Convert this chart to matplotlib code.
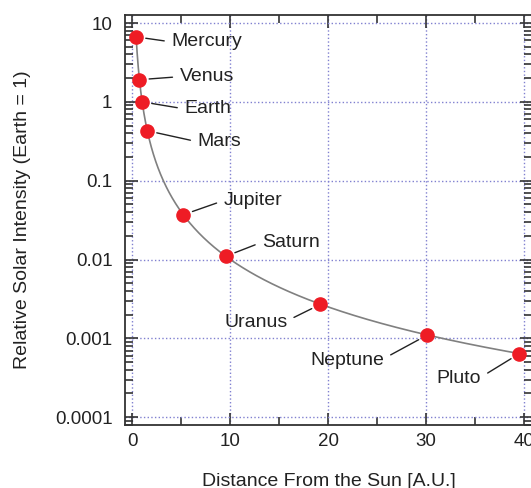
import numpy as np
import matplotlib.pyplot as plt
from matplotlib.ticker import FixedLocator, LogLocator, FuncFormatter, NullFormatter

plt.rcParams['font.family'] = ['Liberation Sans', 'DejaVu Sans']

planets = ['Mercury', 'Venus', 'Earth', 'Mars', 'Jupiter', 'Saturn', 'Uranus', 'Neptune', 'Pluto']
distance = [0.387, 0.723, 1.0, 1.524, 5.20, 9.54, 19.2, 30.1, 39.5]
intensity = [6.67, 1.91, 1.0, 0.43, 0.037, 0.011, 0.0027, 0.0011, 0.00064]

# label offsets in pixels from each dot, plus which side of the text the leader attaches to
label_offset = [(35, -5), (40, 3), (42, -7), (50, -11), (40, 14), (36, 14), (-33, -18), (-43, -25), (-38, -25)]
label_align = ['left'] * 6 + ['right'] * 3

fig = plt.figure(figsize=(5.31, 4.88), dpi=100)
ax = fig.add_axes([0.2354, 0.129, 0.7666, 0.840])

# inverse-square law curve
r = np.geomspace(distance[0], distance[-1], 400)
ax.plot(r, 1 / r**2, color='#808080', lw=1.2, zorder=2)

ax.plot(distance, intensity, 'o', color='#ee1c25', ms=9.5, mec='#ee1c25', zorder=3)

for name, d, s, off, ha in zip(planets, distance, intensity, label_offset, label_align):
    ax.annotate(name, (d, s), xytext=off, textcoords='offset pixels',
                ha=ha, va='center', fontsize=14, color='#222222',
                arrowprops=dict(arrowstyle='-', color='#222222', lw=1,
                                shrinkA=3, shrinkB=7,
                                relpos=(0, 0.5) if ha == 'left' else (1, 0.6)))

ax.set_yscale('log')
ax.set_xlim(-0.75, 40.8)
ax.set_ylim(10**-4.1, 10**1.1)

ax.xaxis.set_major_locator(FixedLocator([0, 10, 20, 30, 40]))
ax.xaxis.set_minor_locator(FixedLocator([5, 15, 25, 35]))
ax.yaxis.set_major_locator(LogLocator(base=10, numticks=20))
ax.yaxis.set_minor_locator(LogLocator(base=10, subs=np.arange(2, 10), numticks=20))
ax.yaxis.set_major_formatter(FuncFormatter(lambda v, p: '%g' % v))
ax.yaxis.set_minor_formatter(NullFormatter())

ax.tick_params(which='both', direction='in', top=True, right=True, width=1.2, color='#333333',
               labelsize=13.5, labelcolor='#222222')
ax.tick_params(which='major', length=9)
ax.tick_params(which='minor', length=6)
ax.tick_params(axis='y', pad=9)
ax.tick_params(axis='x', pad=6)

ax.grid(True, which='major', linestyle=':', color='#8080d0', lw=1)
for sp in ax.spines.values():
    sp.set_linewidth(1.3)
    sp.set_color('#333333')

ax.set_xlabel('Distance From the Sun [A.U.]', fontsize=14, color='#222222', labelpad=16)
ax.set_ylabel('Relative Solar Intensity (Earth = 1)', fontsize=14, color='#222222', labelpad=17)

fig.savefig('out.png', dpi=100)
